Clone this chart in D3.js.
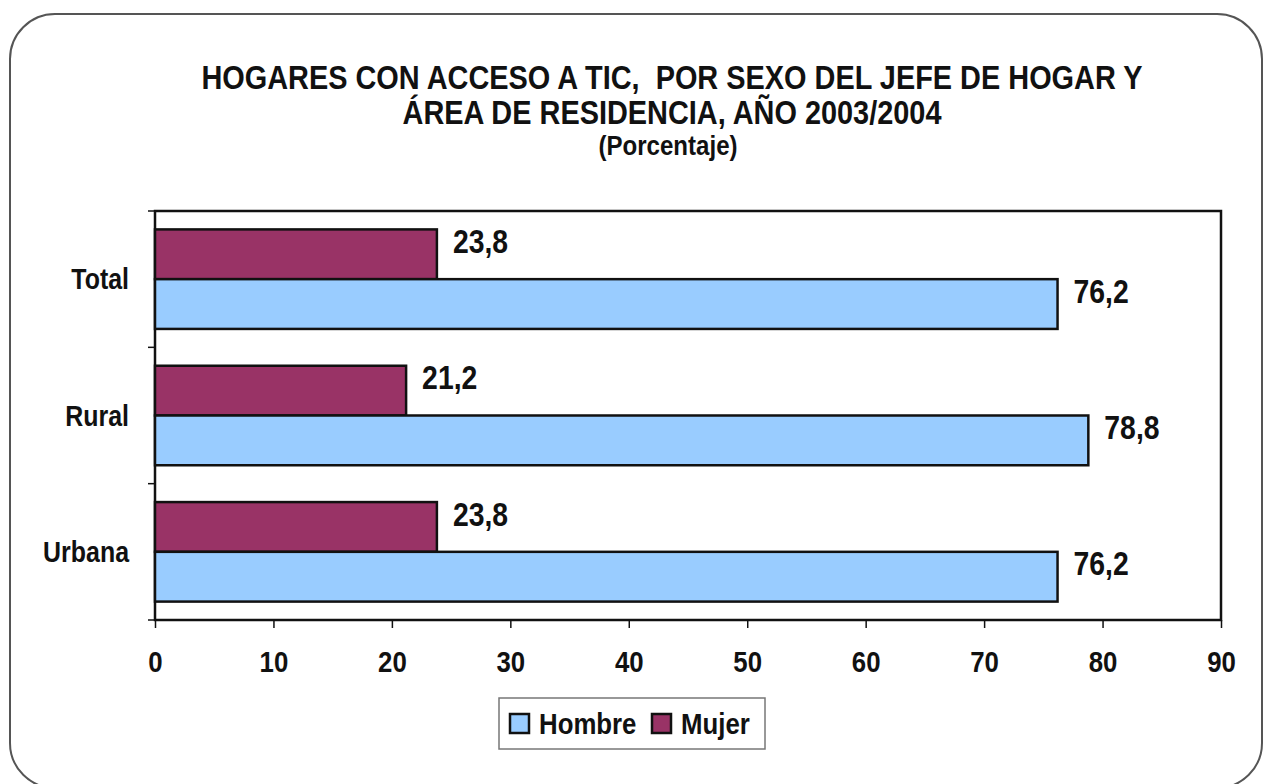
<!DOCTYPE html>
<html>
<head>
<meta charset="utf-8">
<script src="https://cdn.jsdelivr.net/npm/d3@7"></script>
<style>
    body { margin: 0; background: #fff; }
    svg text { font-family: "Liberation Sans", Arial, sans-serif; font-weight: bold; fill: #111; white-space: pre; }
</style>
</head>
<body>
<svg id="chart" width="1264" height="784"></svg>
<script>
// Chart data
const categories = ["Total", "Rural", "Urbana"];
const series     = ["Mujer", "Hombre"];
const mujer      = [23.8, 21.2, 23.8];
const hombre     = [76.2, 78.8, 76.2];
const xTicks     = [0, 10, 20, 30, 40, 50, 60, 70, 80, 90];
const titleLines = ["HOGARES CON ACCESO A TIC,  POR SEXO DEL JEFE DE HOGAR Y", "ÁREA DE RESIDENCIA, AÑO 2003/2004"];
const subtitle   = "(Porcentaje)";

const colors = {Hombre: "#99ccff", Mujer: "#993366"};
const fmt    = v => String(v).replace(".", ",");
const NARROW = 0.86;

// squeeze text horizontally, like a narrow face
function narrow(sel)
{
    sel.each(function () {
        let t = d3.select(this);
        let x = +t.attr("x") || 0;
        let y = +t.attr("y") || 0;
        t.attr("x", 0).attr("y", 0)
            .attr("transform", `translate(${x},${y}) scale(${NARROW},1)`);
    });
}

const svg    = d3.select("#chart");
const margin = {left: 155, right: 43, top: 211, bottom: 164};
const width  = 1264 - margin.left - margin.right;
const height = 784 - margin.top - margin.bottom;

// Outer rounded frame
svg.append("rect")
    .attr("x", 10).attr("y", 14)
    .attr("width", 1252).attr("height", 774)
    .attr("rx", 45).attr("ry", 45)
    .attr("fill", "#fff")
    .attr("stroke", "#555")
    .attr("stroke-width", 2);

// Title
let title = svg.append("g").attr("text-anchor", "middle");
titleLines.forEach((line, i) => {
    title.append("text")
        .attr("x", 672).attr("y", 89 + i * 35)
        .style("font-size", "33.6px")
        .text(line)
        .call(narrow);
});
title.append("text")
    .attr("x", 668).attr("y", 155)
    .style("font-size", "28px")
    .text(subtitle)
    .call(narrow);

const x = d3.scaleLinear().domain([0, 90]).range([0, width]);
const y = d3.scaleBand().domain(categories).range([0, height]);
const sub = d3.scaleBand().domain(series).range([0, y.bandwidth()]).paddingOuter(0.37).paddingInner(0);

const g = svg.append("g").attr("transform", `translate(${margin.left},${margin.top})`);

// Plot frame
g.append("rect")
    .attr("width", width).attr("height", height)
    .attr("fill", "none")
    .attr("stroke", "#111")
    .attr("stroke-width", 2.5);

// Axes
const xAxis = g.append("g")
    .attr("transform", `translate(0,${height})`)
    .call(d3.axisBottom(x).tickValues(xTicks).tickSize(8).tickPadding(23));
xAxis.select(".domain").remove();
xAxis.selectAll("line").attr("stroke", "#111").attr("stroke-width", 1.5);
xAxis.selectAll("text")
    .style("font-size", "30px")
    .attr("fill", "#111")
    .attr("transform", `scale(${NARROW},1)`);

// Y ticks at band edges
const edges = d3.range(categories.length + 1).map(i => i * y.step());
g.selectAll("line.ytick")
    .data(edges)
    .join("line")
    .attr("class", "ytick")
    .attr("x1", -7).attr("x2", 0)
    .attr("y1", d => d).attr("y2", d => d)
    .attr("stroke", "#111")
    .attr("stroke-width", 1.5);

g.selectAll("text.ylabel")
    .data(categories)
    .join("text")
    .attr("class", "ylabel")
    .attr("x", -26)
    .attr("y", d => y(d) + y.bandwidth() / 2)
    .attr("dy", "0.35em")
    .attr("text-anchor", "end")
    .style("font-size", "29px")
    .text(d => d)
    .call(narrow);

// Bars
const rows = categories.map((c, i) => ({cat: c, Mujer: mujer[i], Hombre: hombre[i]}));
const groups = g.selectAll("g.cat")
    .data(rows)
    .join("g")
    .attr("class", "cat")
    .attr("transform", d => `translate(0,${y(d.cat)})`);

groups.selectAll("rect")
    .data(d => series.map(s => ({s, v: d[s]})))
    .join("rect")
    .attr("x", 0)
    .attr("y", d => sub(d.s))
    .attr("width", d => x(d.v))
    .attr("height", sub.bandwidth())
    .attr("fill", d => colors[d.s])
    .attr("stroke", "#111")
    .attr("stroke-width", 2.5);

groups.selectAll("text.val")
    .data(d => series.map(s => ({s, v: d[s]})))
    .join("text")
    .attr("class", "val")
    .attr("x", d => x(d.v) + 16)
    .attr("y", d => sub(d.s) + sub.bandwidth() / 2 - 13)
    .attr("dy", "0.35em")
    .style("font-size", "33px")
    .text(d => fmt(d.v))
    .call(narrow);

// Legend
const legend = svg.append("g").attr("transform", "translate(499,698)");
legend.append("rect")
    .attr("width", 266).attr("height", 51)
    .attr("fill", "#fff")
    .attr("stroke", "#777")
    .attr("stroke-width", 1.5);

const legendItems = [{s: "Hombre", x: 11}, {s: "Mujer", x: 153}];
const li = legend.selectAll("g.item")
    .data(legendItems)
    .join("g")
    .attr("class", "item")
    .attr("transform", d => `translate(${d.x},16)`);
li.append("rect")
    .attr("width", 19).attr("height", 19)
    .attr("fill", d => colors[d.s])
    .attr("stroke", "#111")
    .attr("stroke-width", 2.5);
li.append("text")
    .attr("x", 29).attr("y", 9)
    .attr("dy", "0.36em")
    .style("font-size", "30px")
    .text(d => d.s)
    .call(narrow);
</script>
</body>
</html>
